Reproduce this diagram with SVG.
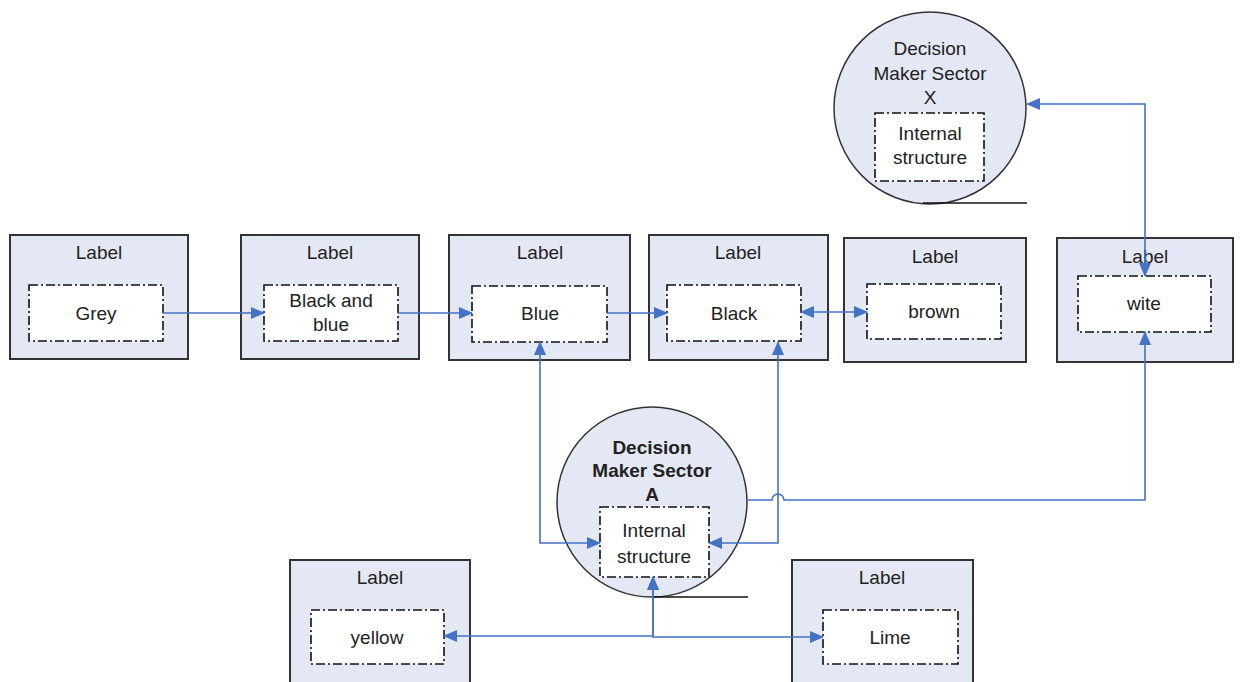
<svg xmlns="http://www.w3.org/2000/svg" width="1242" height="682" viewBox="0 0 1242 682">
<style>
.outer{fill:#e4e8f4;stroke:#333;stroke-width:2}
.inner{fill:#fff;stroke:#111;stroke-width:1.6;stroke-dasharray:9 3 2 3}
.circ{fill:#e4e8f4;stroke:#333;stroke-width:1.5}
.base{stroke:#111;stroke-width:1.5}
text{font-family:"Liberation Sans",Arial,sans-serif;font-size:19px;fill:#222;text-anchor:middle}
.b{font-weight:bold}
.c{fill:none;stroke:#4472c4;stroke-width:1.6}
</style>
<defs>
<marker id="ar" markerUnits="userSpaceOnUse" markerWidth="14" markerHeight="12" viewBox="0 0 14 12" refX="13" refY="6" orient="auto-start-reverse">
<path d="M0,0 L14,6 L0,12 z" fill="#4472c4"/>
</marker>
</defs>
<rect width="1242" height="682" fill="#fff"/>

<g id="n-grey">
<rect class="outer" x="10" y="235" width="178" height="124"/>
<rect class="inner" x="29" y="285" width="134" height="56"/>
<text x="99" y="259">Label</text>
<text x="96" y="320">Grey</text>
</g>
<g id="n-blackblue">
<rect class="outer" x="241" y="235" width="178" height="124"/>
<rect class="inner" x="264" y="285" width="134" height="56"/>
<text x="330" y="259">Label</text>
<text x="331" y="307">Black and</text>
<text x="331" y="331">blue</text>
</g>
<g id="n-blue">
<rect class="outer" x="449" y="235" width="181" height="125"/>
<rect class="inner" x="472" y="286" width="135" height="56"/>
<text x="540" y="259">Label</text>
<text x="540" y="320">Blue</text>
</g>
<g id="n-black">
<rect class="outer" x="649" y="235" width="179" height="125"/>
<rect class="inner" x="667" y="285" width="134" height="56"/>
<text x="738" y="259">Label</text>
<text x="734" y="320">Black</text>
</g>
<g id="n-brown">
<rect class="outer" x="844" y="238" width="182" height="124"/>
<rect class="inner" x="867" y="284" width="134" height="55"/>
<text x="935" y="263">Label</text>
<text x="934" y="318">brown</text>
</g>
<g id="n-wite">
<rect class="outer" x="1057" y="238" width="176" height="124"/>
<rect class="inner" x="1078" y="276" width="133" height="56"/>
<text x="1145" y="263">Label</text>
<text x="1144" y="310">wite</text>
</g>
<g id="n-sectorX">
<circle class="circ" cx="930" cy="108" r="96"/>
<line class="base" x1="923" y1="203" x2="1027" y2="203"/>
<rect class="inner" x="875" y="113" width="109" height="68"/>
<text x="930" y="55">Decision</text>
<text x="930" y="80">Maker Sector</text>
<text x="930" y="104">X</text>
<text x="930" y="140">Internal</text>
<text x="930" y="164">structure</text>
</g>
<g id="n-sectorA">
<circle class="circ" cx="652" cy="502" r="95"/>
<line class="base" x1="653" y1="597" x2="748" y2="597"/>
<rect class="inner" x="600" y="507" width="109" height="70"/>
<text class="b" x="652" y="454">Decision</text>
<text class="b" x="652" y="477">Maker Sector</text>
<text class="b" x="652" y="501">A</text>
<text x="654" y="537">Internal</text>
<text x="654" y="563">structure</text>
</g>
<g id="n-yellow">
<rect class="outer" x="290" y="560" width="180" height="130"/>
<rect class="inner" x="311" y="610" width="133" height="54"/>
<text x="380" y="584">Label</text>
<text x="377" y="644">yellow</text>
</g>
<g id="n-lime">
<rect class="outer" x="792" y="560" width="181" height="130"/>
<rect class="inner" x="823" y="610" width="135" height="54"/>
<text x="882" y="584">Label</text>
<text x="890" y="644">Lime</text>
</g>

<g id="connectors">
<path class="c" d="M163,313 H264" marker-end="url(#ar)"/>
<path class="c" d="M398,313 H472" marker-end="url(#ar)"/>
<path class="c" d="M607,313 H667" marker-end="url(#ar)"/>
<path class="c" d="M801,312 H867" marker-start="url(#ar)" marker-end="url(#ar)"/>
<path class="c" d="M540,342 V543 H600" marker-start="url(#ar)" marker-end="url(#ar)"/>
<path class="c" d="M778,342 V543 H709" marker-start="url(#ar)" marker-end="url(#ar)"/>
<path class="c" d="M748,500 H772 a6,6 0 0 1 12,0 H1145 V332" marker-end="url(#ar)"/>
<path class="c" d="M1145,276 V104 H1027" marker-start="url(#ar)" marker-end="url(#ar)"/>
<path class="c" d="M444,636 H653 V577" marker-start="url(#ar)" marker-end="url(#ar)"/>
<path class="c" d="M823,637 H653 V577" marker-start="url(#ar)" marker-end="url(#ar)"/>
</g>
</svg>
